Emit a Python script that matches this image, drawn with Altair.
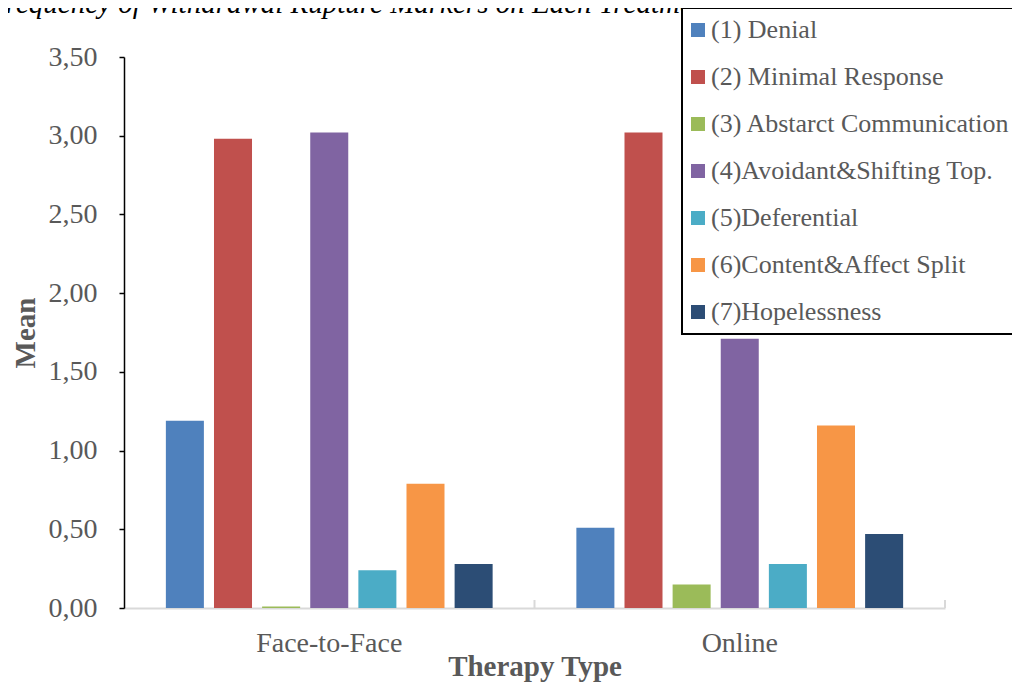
import altair as alt
import pandas as pd

groups = ["Face-to-Face", "Online"]
markers = [
    "(1) Denial",
    "(2) Minimal Response",
    "(3) Abstarct Communication",
    "(4)Avoidant&Shifting Top.",
    "(5)Deferential",
    "(6)Content&Affect Split",
    "(7)Hopelessness",
]
face_to_face = [1.19, 2.98, 0.01, 3.02, 0.24, 0.79, 0.28]
online = [0.51, 3.02, 0.15, 1.71, 0.28, 1.16, 0.47]
colors = ["#4F81BD", "#C0504D", "#9BBB59", "#8064A2", "#4BACC6", "#F79646", "#2C4D75"]
y_ticks = [0, 0.5, 1.0, 1.5, 2.0, 2.5, 3.0, 3.5]
title_text = "Frequency of Withdrawal Rupture Markers on Each Treatment"

rows = []
for g, vals in zip(groups, [face_to_face, online]):
    for m, v in zip(markers, vals):
        rows.append({"Therapy": g, "Marker": m, "Mean": v})
df = pd.DataFrame(rows)
tick_df = pd.DataFrame({"Therapy": groups})
title_df = pd.DataFrame({"t": [title_text]})

FONT = "Liberation Serif"
GREY = "#595959"

x_axis = alt.Axis(
    title="Therapy Type",
    titleFont=FONT, titleFontSize=29, titleFontWeight="bold", titleColor=GREY,
    titleBaseline="alphabetic", titleY=67,
    labelFont=FONT, labelFontSize=28, labelColor=GREY, labelAngle=0,
    labelPadding=21,
    ticks=False, tickSize=0,
    domainColor="#D9D9D9", domainWidth=2,
    grid=False,
)

x_enc = alt.X("Therapy:N", sort=groups,
              scale=alt.Scale(paddingInner=0, paddingOuter=0), axis=x_axis)

bars = alt.Chart(df).mark_bar().encode(
    x=x_enc,
    xOffset=alt.XOffset("Marker:N", sort=markers,
                        scale=alt.Scale(paddingInner=0.21, paddingOuter=0.87)),
    y=alt.Y(
        "Mean:Q",
        scale=alt.Scale(domain=[0, 3.5], nice=False),
        axis=alt.Axis(
            title="Mean",
            titleFont=FONT, titleFontSize=29, titleFontWeight="bold", titleColor=GREY,
            titlePadding=8,
            labelFont=FONT, labelFontSize=28, labelColor=GREY, labelPadding=22,
            values=y_ticks,
            labelExpr="replace(format(datum.value, '.2f'), '.', ',')",
            domainColor="black", domainWidth=1.5,
            tickColor="black", tickWidth=1.5, tickSize=5,
            grid=False,
        ),
    ),
    color=alt.Color(
        "Marker:N", sort=markers,
        scale=alt.Scale(domain=markers, range=colors),
        legend=alt.Legend(
            title=None, orient="none", legendX=558, legendY=-49,
            direction="vertical",
            symbolType="square", symbolSize=196, symbolStrokeWidth=0,
            symbolOffset=-6,
            labelFont=FONT, labelFontSize=26, labelColor=GREY,
            labelOffset=0, labelLimit=0, rowPadding=21, padding=9,
        ),
    ),
)

ticks = alt.Chart(tick_df).mark_rule(color="#D9D9D9", strokeWidth=2).encode(
    x=alt.X("Therapy:N", sort=groups, bandPosition=1,
            scale=alt.Scale(paddingInner=0, paddingOuter=0), axis=x_axis),
    y=alt.value(543),
    y2=alt.value(551),
)

title = alt.Chart(title_df).mark_text(
    font=FONT, fontSize=29, fontStyle="italic", color="black",
    align="left", baseline="alphabetic",
).encode(
    text="t:N",
    x=alt.value(-136),
    y=alt.value(-44),
)

chart = alt.layer(bars, ticks, title).properties(
    width=821, height=551,
    autosize=alt.AutoSizeParams(type="none"),
    padding={"left": 116, "top": 49, "right": 67, "bottom": 74},
).configure_view(stroke=None).configure_legend(
    strokeColor="black", strokeWidth=2, fillColor="white", cornerRadius=0,
)

chart.save("out.html", embed_options={"renderer": "svg", "actions": False})
